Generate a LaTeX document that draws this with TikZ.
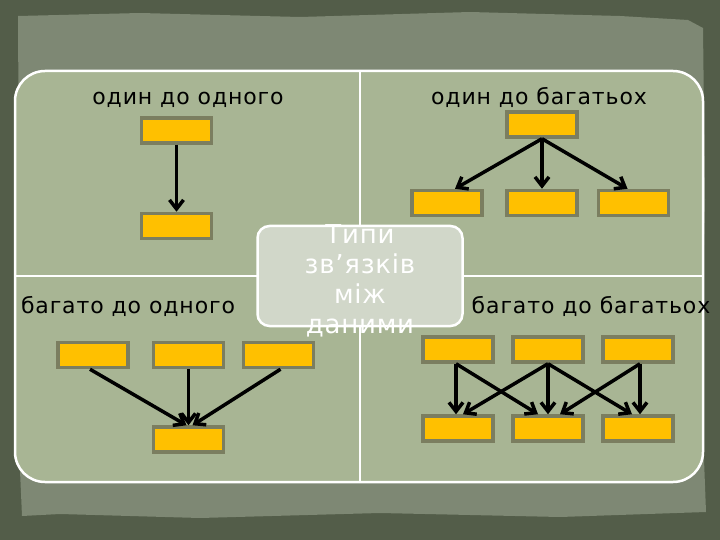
\documentclass[tikz,border=0pt]{standalone}
\usepackage{fontspec}
\setmainfont{DejaVu Sans}
\usepackage{tikz}
\usetikzlibrary{arrows.meta}
\definecolor{bgdark}{HTML}{535D49}
\definecolor{paper}{HTML}{7E8874}
\definecolor{panel}{HTML}{A8B594}
\definecolor{hubfill}{HTML}{D1D7C9}
\definecolor{boxyellow}{HTML}{FFC000}
\definecolor{boxedge}{HTML}{7B7E60}
\tikzset{
  cell/.style={fill=boxyellow, draw=boxedge, line width=3.5pt, minimum width=70pt, minimum height=25pt, inner sep=0pt},
  link/.style={line width=3.5pt, -{Straight Barb[length=9pt,width=14pt]}},
  caption/.style={anchor=base, inner sep=0pt, font=\fontsize{22}{24}\selectfont\addfontfeature{LetterSpace=4}}
}

\begin{document}
\begin{tikzpicture}[x=1pt, y=-1pt]
\useasboundingbox (0,0) rectangle (720,540);
\fill[bgdark] (0,0) rectangle (720,540);
\fill[paper] (18,16) -- (140,13) -- (300,17) -- (470,12) -- (620,16) -- (688,20) -- (703,28)
  -- (705,200) -- (701,380) -- (706,512) -- (560,517) -- (380,513) -- (200,518) -- (60,514)
  -- (22,516) -- (16,380) -- (19,200) -- cycle;
\draw[white, line width=2.5pt, fill=panel, rounded corners=30pt] (15,71) rectangle (703,482);
\draw[white, line width=2pt] (360,71) -- (360,482);
\draw[white, line width=2pt] (15,276) -- (703,276);

\node[draw=white, line width=2.5pt, fill=hubfill, rounded corners=12pt, minimum width=205pt, minimum height=100pt] (hub) at (360,276) {};
\node[text=white, align=center, inner sep=0pt, font=\fontsize{26}{30}\selectfont\addfontfeature{LetterSpace=3}] (hubtext) at (360,281) {Типи\\зв’язків\\між\\даними};

% one to one
\node[caption] (l1) at (188,105) {один до одного};
\node[cell] (a1) at (176.5,130.5) {};
\node[cell] (a2) at (176.5,226) {};
\draw[link] (a1.south) -- (a2.north);

% one to many
\node[caption] (l2) at (539,105) {один до багатьох};
\node[cell] (b0) at (542,124.5) {};
\node[cell] (b1) at (447,203) {};
\node[cell] (b2) at (542,203) {};
\node[cell] (b3) at (633.5,203) {};
\draw[link] (b0.south) -- ([xshift=8pt]b1.north);
\draw[link] (b0.south) -- (b2.north);
\draw[link] (b0.south) -- ([xshift=-6pt]b3.north);

% many to one
\node[caption] (l3) at (128,313) {багато до одного};
\node[cell] (c1) at (93,355) {};
\node[cell] (c2) at (188.5,355) {};
\node[cell] (c3) at (278.5,355) {};
\node[cell] (c0) at (188.5,439.5) {};
\draw[link] ([xshift=-3pt]c1.south) -- ([xshift=-2pt]c0.north);
\draw[link] (c2.south) -- (c0.north);
\draw[link] ([xshift=2pt]c3.south) -- ([xshift=4pt]c0.north);

% many to many
\node[caption] (l4) at (591,313) {багато до багатьох};
\node[cell] (d1) at (458,349.5) {};
\node[cell] (d2) at (548,349.5) {};
\node[cell] (d3) at (638,349.5) {};
\node[cell] (e1) at (458,428.5) {};
\node[cell] (e2) at (548,428.5) {};
\node[cell] (e3) at (638,428.5) {};
\draw[link] ([xshift=-2pt]d1.south) -- ([xshift=-2pt]e1.north);
\draw[link] ([xshift=-2pt]d1.south) -- ([xshift=-10pt]e2.north);
\draw[link] (d2.south) -- ([xshift=5pt]e1.north);
\draw[link] (d2.south) -- (e2.north);
\draw[link] (d2.south) -- ([xshift=-6pt]e3.north);
\draw[link] ([xshift=2pt]d3.south) -- ([xshift=12pt]e2.north);
\draw[link] ([xshift=2pt]d3.south) -- ([xshift=2pt]e3.north);
\end{tikzpicture}
\end{document}
